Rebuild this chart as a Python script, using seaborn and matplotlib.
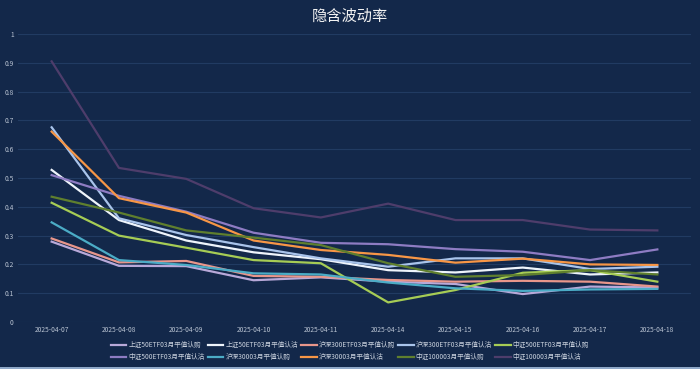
import pandas as pd
import seaborn as sns
import matplotlib.pyplot as plt
from matplotlib.patches import Rectangle

dates = ['2025-04-07', '2025-04-08', '2025-04-09', '2025-04-10', '2025-04-11',
         '2025-04-14', '2025-04-15', '2025-04-16', '2025-04-17', '2025-04-18']

names = ['上证50ETF03月平值认购', '上证50ETF03月平值认沽',
         '沪深300ETF03月平值认购', '沪深300ETF03月平值认沽',
         '中证500ETF03月平值认购', '中证500ETF03月平值认沽',
         '沪深30003月平值认购', '沪深30003月平值认沽',
         '中证100003月平值认购', '中证100003月平值认沽']

sz50_call = [0.279, 0.195, 0.194, 0.145, 0.155, 0.140, 0.132, 0.097, 0.123, 0.120]
sz50_put = [0.528, 0.354, 0.283, 0.242, 0.218, 0.180, 0.172, 0.189, 0.165, 0.172]
hs300etf_call = [0.290, 0.207, 0.212, 0.160, 0.157, 0.146, 0.140, 0.143, 0.140, 0.123]
hs300etf_put = [0.676, 0.360, 0.302, 0.260, 0.221, 0.192, 0.221, 0.221, 0.184, 0.192]
zz500etf_call = [0.414, 0.300, 0.258, 0.215, 0.204, 0.068, 0.111, 0.171, 0.180, 0.140]
zz500etf_put = [0.510, 0.438, 0.383, 0.310, 0.275, 0.270, 0.253, 0.244, 0.215, 0.252]
hs300_call = [0.346, 0.215, 0.198, 0.169, 0.165, 0.137, 0.117, 0.108, 0.113, 0.115]
hs300_put = [0.661, 0.430, 0.380, 0.283, 0.250, 0.233, 0.206, 0.220, 0.200, 0.198]
zz1000_call = [0.435, 0.380, 0.318, 0.293, 0.267, 0.204, 0.157, 0.163, 0.180, 0.165]
zz1000_put = [0.905, 0.535, 0.497, 0.395, 0.363, 0.411, 0.354, 0.354, 0.321, 0.318]

colors = ['#b8a9d9', '#eef4fb', '#e8968b', '#a9c4eb', '#a6cc55',
          '#8e7cc3', '#4bacc6', '#f79646', '#5f7f2e', '#4e3d6b']

series = [sz50_call, sz50_put, hs300etf_call, hs300etf_put, zz500etf_call,
          zz500etf_put, hs300_call, hs300_put, zz1000_call, zz1000_put]

frames = []
for name, vals in zip(names, series):
    frames.append(pd.DataFrame({'date': dates, 'iv': vals, 'name': name}))
data = pd.concat(frames, ignore_index=True)

bg = '#13284a'
plt.rcParams['font.family'] = ['Noto Sans CJK SC', 'DejaVu Sans']

fig = plt.figure(figsize=(7, 3.69), dpi=100, facecolor=bg)
ax = fig.add_axes([18 / 700, 1 - 322 / 369, 673 / 700, 288 / 369])
ax.set_facecolor(bg)

sns.lineplot(data=data, x='date', y='iv', hue='name', hue_order=names,
             palette=colors, linewidth=1.6, sort=False, ax=ax)

ax.set_xlim(-0.5, len(dates) - 0.5)
ax.set_ylim(0, 1)
ax.set_yticks([i / 10 for i in range(11)])
ax.set_yticklabels(['0', '0.1', '0.2', '0.3', '0.4', '0.5', '0.6', '0.7', '0.8', '0.9', '1'])
ax.grid(axis='y', color='#213b62', linewidth=0.8)
ax.set_axisbelow(True)
for s in ax.spines.values():
    s.set_visible(False)
ax.tick_params(colors='#b9c3d2', labelsize=4.8, length=0, pad=3)
ax.set_xlabel('')
ax.set_ylabel('')

fig.text(0.5, 1 - 16 / 369, '隐含波动率', ha='center', va='center',
         color='#f2f2f2', fontsize=11, fontweight='medium')

handles, labels = ax.get_legend_handles_labels()
order = []
for c in range(5):
    order += [c, c + 5]
ax.legend([handles[i] for i in order], [labels[i] for i in order],
          ncol=5, loc='center', bbox_to_anchor=(350 / 700, 1 - 351 / 369),
          bbox_transform=fig.transFigure, frameon=False, fontsize=4.8,
          labelcolor='#c9d1dd', handlelength=2.3, handletextpad=0.3,
          columnspacing=0.5, labelspacing=0.6)

# thin light strip along the bottom edge
fig.add_artist(Rectangle((0, 0), 1, 2 / 369, transform=fig.transFigure,
                         color='#8fa8c8', lw=0))

fig.savefig('out.png', dpi=100, facecolor=bg)
